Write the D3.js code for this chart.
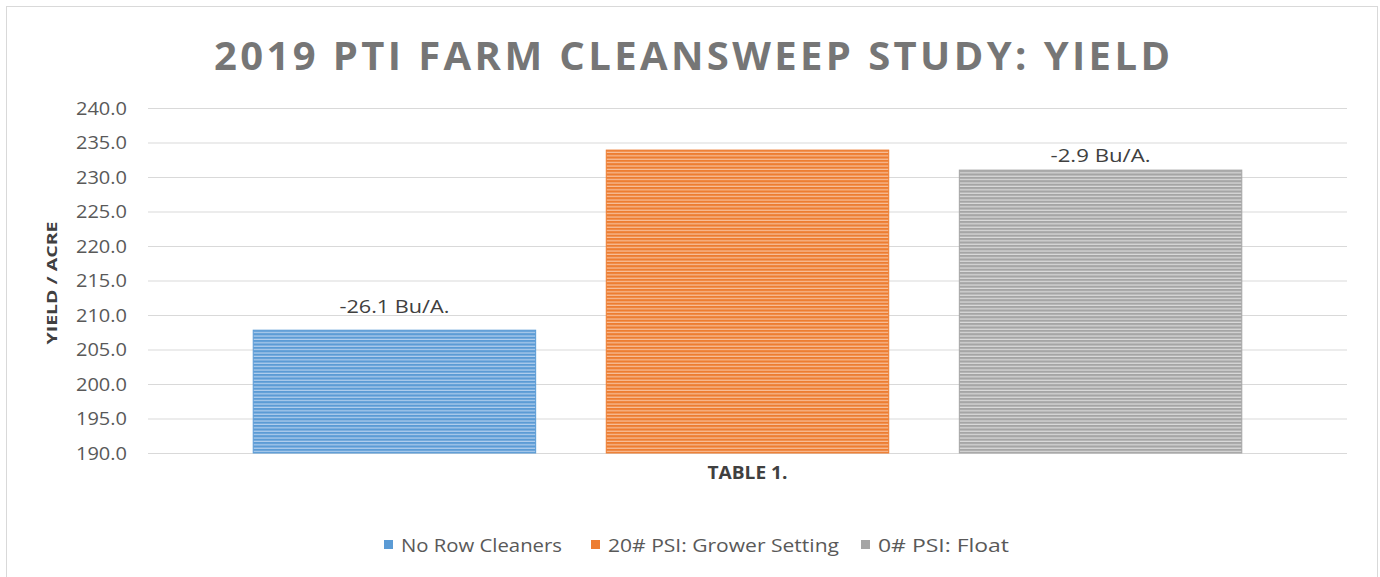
<!DOCTYPE html>
<html>
<head>
<meta charset="utf-8">
<script src="https://cdn.jsdelivr.net/npm/d3@7.9.0/dist/d3.min.js"></script>
<style>
  body { margin: 0; background: #fff; }
  svg { display: block; font-family: "Open Sans", "Noto Sans", sans-serif; }
</style>
</head>
<body>
<svg id="chart" width="1380" height="577"></svg>
<script>
// data
const category = ['TABLE 1.'];
const series = ['No Row Cleaners', '20# PSI: Grower Setting', '0# PSI: Float'];
const yields = [207.8, 233.9, 231.0];
const barLabels = ['-26.1 Bu/A.', '', '-2.9 Bu/A.'];
const yTicks = [190, 195, 200, 205, 210, 215, 220, 225, 230, 235, 240];

const colors = ['#5b9bd5', '#ed7d31', '#a5a5a5'];
const lightColors = ['#b4d0ee', '#f8c19d', '#dcdcdc'];

const svg = d3.select('#chart');

// outer frame
svg.append('rect')
  .attr('x', 6.5).attr('y', 6.5)
  .attr('width', 1371).attr('height', 580)
  .attr('fill', '#fff').attr('stroke', '#d9d9d9');

// stripe patterns
const defs = svg.append('defs');
series.forEach((s, i) => {
  const p = defs.append('pattern')
    .attr('id', 'stripe' + i)
    .attr('patternUnits', 'userSpaceOnUse')
    .attr('width', 8).attr('height', 3.4);
  p.append('rect').attr('width', 8).attr('height', 3.4).attr('fill', colors[i]);
  p.append('rect').attr('y', 2.2).attr('width', 8).attr('height', 1.2).attr('fill', lightColors[i]);
});

const plotL = 148, plotR = 1347, plotT = 108, plotB = 453;

const y = d3.scaleLinear().domain([190, 240]).range([plotB, plotT]);
const x0 = d3.scaleBand().domain(category).range([plotL, plotR]).paddingOuter(0.066);
const x1 = d3.scaleBand().domain(series).range([0, x0.bandwidth()])
  .paddingInner(0.2).paddingOuter(0.1);

// title
svg.append('text')
  .attr('x', 692).attr('y', 70)
  .attr('text-anchor', 'middle')
  .attr('font-size', 40).attr('font-weight', 700)
  .attr('fill', '#767676')
  .attr('textLength', 956).attr('lengthAdjust', 'spacing')
  .text('2019 PTI FARM CLEANSWEEP STUDY: YIELD');

// gridlines + y axis
const yAxis = svg.append('g')
  .attr('transform', `translate(${plotL},0)`)
  .call(d3.axisLeft(y).tickValues(yTicks).tickSize(-(plotR - plotL)).tickPadding(21)
    .tickFormat(d3.format('.1f')));
yAxis.select('.domain').remove();
yAxis.selectAll('.tick line').attr('stroke', '#d9d9d9').attr('stroke-width', 1.2);
yAxis.selectAll('.tick text')
  .attr('font-size', 19).attr('fill', '#595959')
  .attr('font-family', '"Open Sans", sans-serif')
  .attr('textLength', 51).attr('lengthAdjust', 'spacingAndGlyphs');

// y axis title
svg.append('text')
  .attr('transform', 'translate(57,283) rotate(-90)')
  .attr('text-anchor', 'middle')
  .attr('font-size', 15).attr('font-weight', 700)
  .attr('fill', '#404040')
  .attr('textLength', 123).attr('lengthAdjust', 'spacingAndGlyphs')
  .text('YIELD / ACRE');

// bars
const g = svg.append('g').attr('transform', `translate(${x0(category[0])},0)`);
g.selectAll('rect.bar')
  .data(series)
  .join('rect')
  .attr('class', 'bar')
  .attr('x', d => x1(d))
  .attr('y', (d, i) => y(yields[i]))
  .attr('width', x1.bandwidth())
  .attr('height', (d, i) => y(190) - y(yields[i]))
  .attr('fill', (d, i) => `url(#stripe${i})`)
  .attr('stroke', (d, i) => colors[i])
  .attr('stroke-width', 1);

// bar labels (placed by hand in the original, so offsets differ)
const labelGap = [17, 8, 8];
const labelWidth = [110, 0, 100];
g.selectAll('text.lbl')
  .data(series.filter((d, i) => barLabels[i]))
  .join('text')
  .attr('class', 'lbl')
  .attr('x', d => x1(d) + x1.bandwidth() / 2)
  .attr('y', d => y(yields[series.indexOf(d)]) - labelGap[series.indexOf(d)])
  .attr('text-anchor', 'middle')
  .attr('font-size', 19).attr('fill', '#404040')
  .attr('textLength', d => labelWidth[series.indexOf(d)])
  .attr('lengthAdjust', 'spacingAndGlyphs')
  .text(d => barLabels[series.indexOf(d)]);

// category axis label
svg.append('text')
  .attr('x', x0(category[0]) + x0.bandwidth() / 2).attr('y', 479)
  .attr('text-anchor', 'middle')
  .attr('font-size', 18).attr('font-weight', 700)
  .attr('fill', '#404040')
  .attr('textLength', 80).attr('lengthAdjust', 'spacingAndGlyphs')
  .text(category[0]);

// legend
const legendX = [384, 591, 861];
const legendW = [161, 231, 131];
const legend = svg.append('g');
series.forEach((s, i) => {
  legend.append('rect')
    .attr('x', legendX[i]).attr('y', 540)
    .attr('width', 9).attr('height', 9)
    .attr('fill', colors[i]);
  legend.append('text')
    .attr('x', legendX[i] + 17).attr('y', 552)
    .attr('font-size', 19).attr('fill', '#595959')
    .attr('textLength', legendW[i]).attr('lengthAdjust', 'spacingAndGlyphs')
    .text(s);
});
</script>
</body>
</html>
